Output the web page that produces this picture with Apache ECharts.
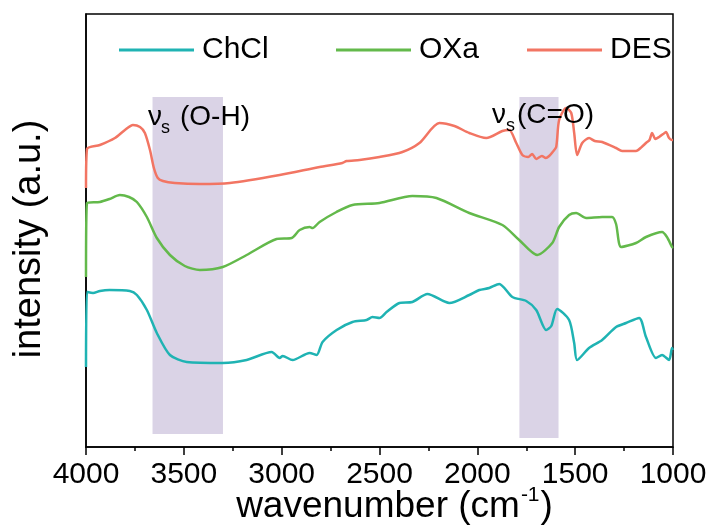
<!DOCTYPE html>
<html>
<head>
<meta charset="utf-8">
<script src="https://cdn.jsdelivr.net/npm/echarts@6/dist/echarts.min.js"></script>
<style>
html,body{margin:0;padding:0;background:#fff;}
#chart{width:716px;height:530px;}
</style>
</head>
<body>
<div id="chart"></div>
<script>
// ---- data (intensity in arbitrary units) ----
var seriesNames = ['ChCl', 'OXa', 'DES'];
var xTicks = [4000, 3500, 3000, 2500, 2000, 1500, 1000];

var chclWavenumber = [4000,3995,3964,3929,3880,3776,3740,3689,3638,3571,3485,3301,3179,3051,3010,2995,2944,2857,2821,2791,2719,2638,2566,2536,2500,2464,2398,2332,2255,2143,2041,1990,1939,1888,1821,1750,1699,1648,1622,1592,1531,1505,1490,1429,1362,1291,1240,1173,1138,1087,1056,1020,1005,1000];
var chclIntensity  = [80,155,154,156,157,156,152,137,114,92,85,84,87,95,89,91,87,94,92,105,117,125,127,130,129,135,144,145,153,144,152,157,159,163,150,146,137,117,121,138,127,104,87,99,107,120,124,129,110,89,92,87,99,97];

var oxaWavenumber = [4000,3995,3929,3880,3827,3780,3740,3689,3638,3571,3495,3418,3301,3179,3026,2949,2908,2857,2842,2806,2720,2638,2500,2332,2209,2041,1872,1786,1694,1617,1582,1531,1495,1444,1362,1311,1291,1265,1189,1138,1056,1031,1005,1000];
var oxaIntensity  = [170,244,245,248,252,250,245,230,209,192,181,177,180,192,208,209,217,220,219,225,235,242,244,251,249,234,222,207,192,204,220,232,234,229,230,230,223,200,204,210,215,210,200,199];

var desWavenumber = [4000,3995,3929,3852,3801,3760,3724,3699,3673,3653,3633,3607,3546,3418,3265,3010,2806,2690,2668,2602,2500,2383,2296,2194,2117,2041,1954,1872,1837,1801,1770,1740,1720,1699,1670,1650,1633,1615,1597,1582,1546,1520,1505,1490,1464,1429,1400,1362,1291,1260,1189,1160,1138,1120,1107,1090,1071,1050,1036,1020,1005,1000];
var desIntensity  = [259,298,302,309,317,322,320,314,297,279,269,266,264,263,264,272,280,284,286,287,290,295,304,324,321,314,309,316,317,304,292,290,293,288,291,289,291,295,300,327,339,334,314,292,304,309,306,305,299,296,296,300,304,307,314,308,310,313,315,309,307,307];

// shaded bands: [from wavenumber, to wavenumber, bottom intensity, top intensity]
var bandOH = [3660, 3300, 13, 350];
var bandCO = [1785, 1585, 9, 350];

function zip(xs, ys){ return xs.map(function(x,i){ return [x, ys[i]]; }); }

var FONT = 'Liberation Sans, Arial, sans-serif';
var colors = ['#1fb3b3', '#63b94b', '#f27563'];

var chart = echarts.init(document.getElementById('chart'), null, {renderer:'canvas'});

function lineSeries(name, data, color){
  return {
    name: name, type: 'line', data: data, showSymbol: false, symbol: 'none',
    smooth: 0.25, z: 3,
    lineStyle: {color: color, width: 2.5}, itemStyle: {color: color}
  };
}

function legendAt(name, left){
  return {
    data: [name], left: left, top: 30, itemWidth: 75, itemHeight: 3,
    icon: 'rect',
    textStyle: {fontFamily: FONT, fontSize: 30, color: '#000', padding: [0,0,0,3]}
  };
}

var option = {
  backgroundColor: '#fff',
  animation: false,
  grid: {left: 86, right: 43, top: 14, bottom: 83, outerBoundsMode: 'none', containLabel: false,
    show: true, borderColor: '#000', borderWidth: 1.5, backgroundColor: 'transparent'},
  legend: [legendAt('ChCl', 114), legendAt('OXa', 331), legendAt('DES', 522)],
  xAxis: {
    type: 'value', min: 1000, max: 4000, interval: 500, inverse: true,
    axisLine: {show: true, lineStyle: {color: '#000', width: 1.5}},
    axisTick: {show: true, inside: false, length: 8, lineStyle: {color: '#000', width: 1.5}},
    minorTick: {show: true, splitNumber: 2, length: 4, lineStyle: {color: '#000', width: 1.5}},
    splitLine: {show: false},
    axisLabel: {fontFamily: FONT, fontSize: 30, color: '#000', margin: 13,
      formatter: function(v){ return xTicks.indexOf(v) >= 0 ? String(v) : ''; }},
    name: '{a|wavenumber (cm}{sup|-1}{a|)}',
    nameLocation: 'middle', nameGap: 38, nameMoveOverlap: false,
    nameTextStyle: {
      padding: [0, 0, 0, 30],
      rich: {
        a: {fontFamily: FONT, fontSize: 37, color: '#000', lineHeight: 40, verticalAlign: 'bottom'},
        sup: {fontFamily: FONT, fontSize: 21, color: '#000', lineHeight: 40, verticalAlign: 'top', padding: [0,1,0,1]}
      }
    }
  },
  yAxis: {
    type: 'value', min: 0, max: 433,
    axisLine: {show: true, lineStyle: {color: '#000', width: 1.5}},
    axisTick: {show: false}, axisLabel: {show: false}, splitLine: {show: false}
  },
  graphic: [
    {type: 'text', z: 100, x: 30, y: 239, rotation: Math.PI/2,
      style: {text: 'intensity (a.u.)', font: '38px ' + FONT, fill: '#000', textAlign: 'center', textVerticalAlign: 'middle'}},
    {type: 'text', z: 100, x: 148, y: 117, style: {text: 'ν', font: '28px ' + FONT, fill: '#000', textVerticalAlign: 'middle'}},
    {type: 'text', z: 100, x: 161, y: 128, style: {text: 's', font: '18px ' + FONT, fill: '#000', textVerticalAlign: 'middle'}},
    {type: 'text', z: 100, x: 180, y: 117, style: {text: '(O-H)', font: '28px ' + FONT, fill: '#000', textVerticalAlign: 'middle'}},
    {type: 'text', z: 100, x: 492, y: 115, style: {text: 'ν', font: '28px ' + FONT, fill: '#000', textVerticalAlign: 'middle'}},
    {type: 'text', z: 100, x: 506, y: 126, style: {text: 's', font: '18px ' + FONT, fill: '#000', textVerticalAlign: 'middle'}},
    {type: 'text', z: 100, x: 517, y: 115, style: {text: '(C=O)', font: '28px ' + FONT, fill: '#000', textVerticalAlign: 'middle'}}
  ],
  series: [
    {
      name: 'bands', type: 'line', data: [], z: 1, silent: true,
      markArea: {
        silent: true,
        itemStyle: {color: '#dad3e6', opacity: 1},
        data: [
          [{coord: [bandOH[0], bandOH[2]]}, {coord: [bandOH[1], bandOH[3]]}],
          [{coord: [bandCO[0], bandCO[2]]}, {coord: [bandCO[1], bandCO[3]]}]
        ]
      }
    },
    lineSeries(seriesNames[0], zip(chclWavenumber, chclIntensity), colors[0]),
    lineSeries(seriesNames[1], zip(oxaWavenumber, oxaIntensity), colors[1]),
    lineSeries(seriesNames[2], zip(desWavenumber, desIntensity), colors[2])
  ]
};
chart.setOption(option);
</script>
</body>
</html>
